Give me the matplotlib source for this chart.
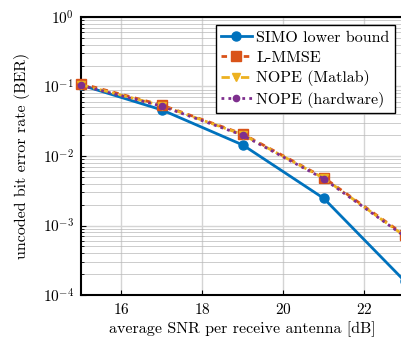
import matplotlib
matplotlib.use("Agg")
import matplotlib.pyplot as plt

plt.rcParams['font.family'] = 'serif'
plt.rcParams['font.serif'] = ['cmr10', 'DejaVu Serif']
plt.rcParams['mathtext.fontset'] = 'cm'
plt.rcParams['axes.formatter.use_mathtext'] = True

snr = [15, 17, 19, 21, 23]
simo = [0.105, 0.046, 0.0144, 0.00246, 0.000159]
lmmse = [0.11, 0.054, 0.0207, 0.0049, 0.00073]
nope_matlab = [0.106, 0.053, 0.0203, 0.0048, 0.00071]
nope_hw = [0.104, 0.052, 0.0199, 0.0047, 0.00070]

fig = plt.figure(figsize=(4.01, 3.37), dpi=100)
ax = fig.add_axes([0.202, 0.1246, 0.807, 0.825])

ax.semilogy(snr, simo, color='#0072BD', marker='o', markersize=6.5, linewidth=2,
            linestyle='-', label='SIMO lower bound', clip_on=False, zorder=3)
ax.semilogy(snr, lmmse, color='#D95319', marker='s', markersize=6.5, linewidth=2,
            linestyle=(0, (2, 2)), label='L-MMSE', clip_on=False, zorder=4)
ax.semilogy(snr, nope_matlab, color='#EDB120', marker='v', markersize=5.5, linewidth=2,
            linestyle=(0, (3, 1.5, 1, 1.5)), label='NOPE (Matlab)', clip_on=False, zorder=5)
ax.semilogy(snr, nope_hw, color='#7E2F8E', marker='o', markersize=4.5, linewidth=2,
            linestyle=(0, (1, 1.5)), label='NOPE (hardware)', clip_on=False, zorder=6)

ax.set_xlim(15, 23)
ax.set_ylim(1e-4, 1)
ax.set_xticks([16, 18, 20, 22])
ax.set_xlabel('average SNR per receive antenna [dB]', fontsize=11.5, labelpad=3)
ax.set_ylabel('uncoded bit error rate (BER)', fontsize=11.5, labelpad=9)
ax.tick_params(labelsize=11, direction='in', which='both', pad=5)
ax.grid(True, which='major', color='#d4d4d4', linewidth=1)
ax.grid(True, which='minor', axis='y', color='#b8b8b8', linewidth=0.5)
for s in ax.spines.values():
    s.set_linewidth(1.5)

leg = ax.legend(loc='upper right', bbox_to_anchor=(0.971, 0.971), borderaxespad=0,
                fontsize=11.5, fancybox=False, edgecolor='black', framealpha=1,
                handlelength=1.9, labelspacing=0.35, borderpad=0.35, handletextpad=0.3)
leg.get_frame().set_linewidth(1)

fig.savefig('out.png', dpi=100)
